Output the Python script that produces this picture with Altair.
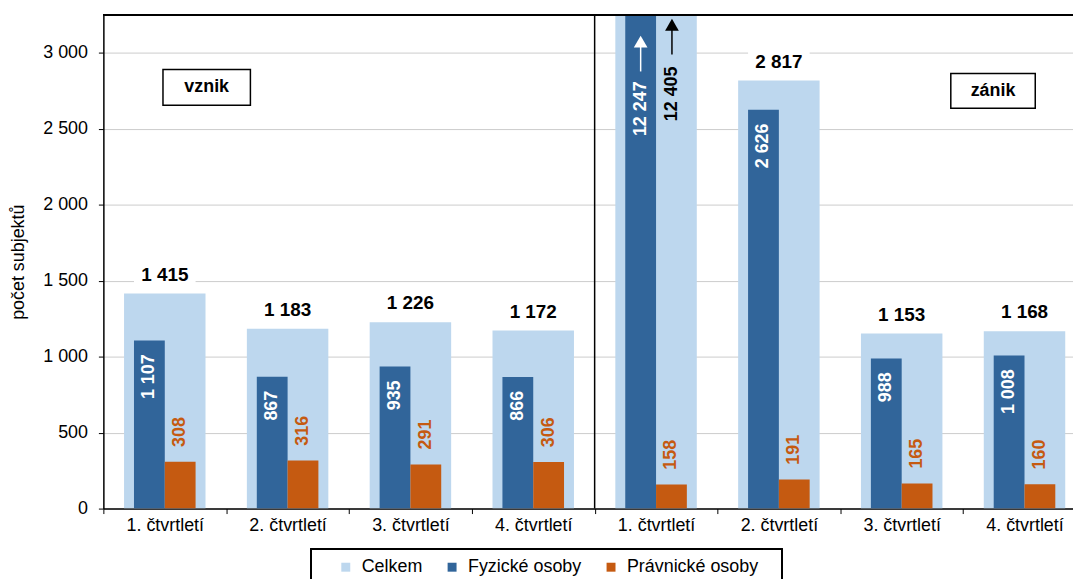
import altair as alt
import pandas as pd

# ---- data ----
groups = ["vznik", "vznik", "vznik", "vznik", "zánik", "zánik", "zánik", "zánik"]
quarters = ["1. čtvrtletí", "2. čtvrtletí", "3. čtvrtletí", "4. čtvrtletí",
            "1. čtvrtletí", "2. čtvrtletí", "3. čtvrtletí", "4. čtvrtletí"]
celkem = [1415, 1183, 1226, 1172, 12405, 2817, 1153, 1168]
fyzicke = [1107, 867, 935, 866, 12247, 2626, 988, 1008]
pravnicke = [308, 316, 291, 306, 158, 191, 165, 160]
y_ticks = [0, 500, 1000, 1500, 2000, 2500, 3000]
y_max = 3250
series = ["Celkem", "Fyzické osoby", "Právnické osoby"]
colors = ["#bdd7ee", "#31659a", "#c55a11"]
panel_labels = ["vznik", "zánik"]

FONT = "Liberation Sans"
W, H = 976, 497
X_RANGE = 989  # the category axis runs on past the right edge of the picture

keys = [f"{g}|{q}" for g, q in zip(groups, quarters)]
df = pd.DataFrame({"key": keys, "celkem": celkem, "fyz": fyzicke, "prav": pravnicke})

fmt = lambda f: f"replace(format(datum.{f}, ','), ',', ' ')"

x_axis = alt.Axis(title=None, labelExpr="split(datum.label, '|')[1]", labelAngle=0,
                  tickBand="extent", tickSize=5, labelPadding=3, labelFontSize=18,
                  domainColor="black", tickColor="black", domainWidth=1.5, grid=False,
                  labelColor="black", labelFont=FONT)
x_scale = alt.Scale(domain=keys, paddingInner=0, paddingOuter=0, range=[0, X_RANGE])
X = alt.X("key:N", sort=keys, scale=x_scale, axis=x_axis)

y_scale = alt.Scale(domain=[0, y_max], nice=False)
y_axis = alt.Axis(values=y_ticks, labelExpr="replace(format(datum.value, ','), ',', ' ')",
                  title="počet subjektů", titleFontSize=18, titleFontWeight="normal",
                  titleFont=FONT, titleColor="black", titlePadding=15,
                  labelFontSize=18, labelFont=FONT, labelColor="black",
                  tickSize=5, labelPadding=11, domainColor="black", tickColor="black",
                  domainWidth=1.5, gridColor="#cccccc", gridWidth=1)

def Y(f):
    return alt.Y(f"{f}:Q", scale=y_scale, axis=y_axis)

color_scale = alt.Scale(domain=series, range=colors)
legend = alt.Legend(orient="none", legendX=235, legendY=547, direction="horizontal",
                    title=None, symbolType="square", symbolSize=81, symbolStrokeWidth=0,
                    labelFontSize=18, labelFont=FONT, labelColor="black", padding=0,
                    columnPadding=20, labelOffset=7)

C = alt.Color("s:N", scale=color_scale, legend=legend)

base = alt.Chart(df)

bars_c = base.transform_calculate(s=f"'{series[0]}'").mark_bar(width=82, clip=True).encode(
    x=X, y=Y("celkem"), color=C)
bars_f = base.transform_calculate(s=f"'{series[1]}'").mark_bar(width=31, xOffset=-15.5, clip=True).encode(
    x=X, y=Y("fyz"), color=C)
bars_p = base.transform_calculate(s=f"'{series[2]}'").mark_bar(width=31, xOffset=15.5, clip=True).encode(
    x=X, y=Y("prav"), color=C)

sep = alt.Chart(pd.DataFrame({"key": [keys[4]]})).mark_rule(color="black", strokeWidth=1.5).encode(
    x=alt.X("key:N", sort=keys, scale=x_scale, axis=x_axis, bandPosition=0))

top_rule = base.mark_rule(color="black", strokeWidth=1.5).encode(
    y=alt.value(0), x=alt.value(0), x2=alt.value(X_RANGE))

inside = base.transform_filter(f"datum.celkem <= {y_max}")
lbl_box = inside.mark_bar(width=62, color="white", yOffset=-8, y2Offset=-31).encode(
    x=X, y=Y("celkem"), y2=alt.Y2("celkem:Q"))
lbl_c = inside.transform_calculate(t=fmt("celkem")).mark_text(
    dy=-13, baseline="alphabetic", align="center", fontSize=19, fontWeight="bold",
    font=FONT, color="black").encode(x=X, y=Y("celkem"), text="t:N")

inside_f = base.transform_filter(f"datum.fyz <= {y_max}")
lbl_f = inside_f.transform_calculate(t=fmt("fyz")).mark_text(
    angle=270, align="right", baseline="middle", dx=-14, xOffset=-15.5, fontSize=18,
    fontWeight="bold", font=FONT, color="white").encode(x=X, y=Y("fyz"), text="t:N")
lbl_p = base.transform_calculate(t=fmt("prav")).mark_text(
    angle=270, align="left", baseline="middle", dx=15, xOffset=15.5, fontSize=18,
    fontWeight="bold", font=FONT, color=colors[2]).encode(x=X, y=Y("prav"), text="t:N")

# clipped (off-scale) bars: labels and arrows at the top of the plot
over_f = base.transform_filter(f"datum.fyz > {y_max}")
over_c = base.transform_filter(f"datum.celkem > {y_max}")
lbl_of = over_f.transform_calculate(t=fmt("fyz")).mark_text(
    angle=270, align="right", baseline="middle", xOffset=-15.5, fontSize=18,
    fontWeight="bold", font=FONT, color="white").encode(x=X, y=alt.value(67), text="t:N")
lbl_oc = over_c.transform_calculate(t=fmt("celkem")).mark_text(
    angle=270, align="right", baseline="middle", xOffset=16, fontSize=18,
    fontWeight="bold", font=FONT, color="black").encode(x=X, y=alt.value(52), text="t:N")
shaft_f = over_f.mark_rule(color="white", strokeWidth=1.5, xOffset=-15.5).encode(
    x=X, y=alt.value(32), y2=alt.value(57))
head_f = over_f.mark_point(shape="triangle-up", filled=True, color="white", opacity=1,
                           size=190, xOffset=-15.5).encode(x=X, y=alt.value(27))
shaft_c = over_c.mark_rule(color="black", strokeWidth=1.5, xOffset=16).encode(
    x=X, y=alt.value(15), y2=alt.value(40))
head_c = over_c.mark_point(shape="triangle-up", filled=True, color="black", opacity=1,
                           size=190, xOffset=16).encode(x=X, y=alt.value(10))

# panel annotations
ann = pd.DataFrame({"t": panel_labels, "x1": [60, 853], "x2": [148, 938],
                    "y1": [55, 59], "y2": [91, 94]})
ann_box = alt.Chart(ann).mark_rect(fill="white", stroke="black", strokeWidth=1.5).encode(
    x=alt.X("x1:Q", scale=None), x2="x2", y=alt.Y("y1:Q", scale=None), y2="y2")
ann_txt = alt.Chart(ann).transform_calculate(
    cx="(datum.x1 + datum.x2) / 2", cy="(datum.y1 + datum.y2) / 2").mark_text(
    fontSize=18, fontWeight="bold", font=FONT, color="black", baseline="middle").encode(
    x=alt.X("cx:Q", scale=None), y=alt.Y("cy:Q", scale=None), text="t:N")

legend_box = base.mark_rect(fill=None, stroke="black", strokeWidth=1.5, clip=False).encode(
    x=alt.value(209), x2=alt.value(683), y=alt.value(538), y2=alt.value(595))

chart = alt.layer(
    bars_c, bars_f, bars_p, sep, top_rule, lbl_box, lbl_c, lbl_f, lbl_p,
    lbl_of, lbl_oc, shaft_f, head_f, shaft_c, head_c, ann_box, ann_txt, legend_box
).properties(
    width=W, height=H,
    padding={"left": 96, "top": 5, "right": 0, "bottom": 69},
    autosize="none",
).configure_view(strokeWidth=0)

chart.save("out.html", embed_options={"renderer": "svg", "actions": False})
